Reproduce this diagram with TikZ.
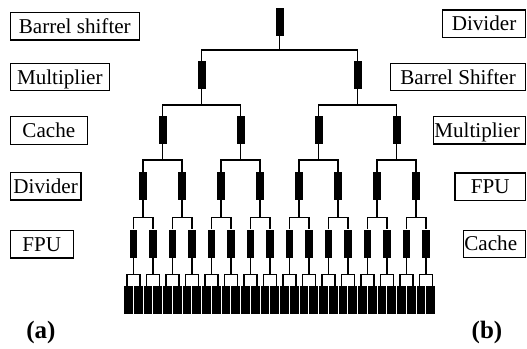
\documentclass[tikz,border=0pt]{standalone}
\usepackage{fontspec}
\setmainfont{Liberation Serif}
\newcommand\tagfont{\fontsize{21.1}{24}\selectfont}
\newcommand\capfont{\fontsize{25}{28}\selectfont\bfseries}
\tikzset{
  unit/.style={fill=black, draw=none, inner sep=0pt, minimum width=7.6pt, minimum height=28pt},
  leafunit/.style={unit, minimum width=8.7pt},
  wire/.style={line width=1.5pt},
  tag/.style={draw, line width=1.3pt, font=\tagfont, inner xsep=0pt, inner ysep=6.7pt,
              text height=14pt, text depth=0pt},
  caption/.style={font=\capfont, inner sep=0pt}
}
\begin{document}
\begin{tikzpicture}[x=1pt,y=-1pt]
\useasboundingbox (0,0) rectangle (527,348);
\def\cx{279.7}
% tree units, level by level: level/centre y/junction y below
\foreach \k/\yc/\yb in {0/21.5/50, 1/75/105, 2/130.15/160, 3/185.85/217.3, 4/243.65/274.3}{
  \pgfmathtruncatemacro\n{2^\k}
  \pgfmathsetmacro\s{312/\n}
  \pgfmathtruncatemacro\last{\n-1}
  \foreach \i in {0,...,\last}{
    \pgfmathsetmacro\xx{\cx+(\i-(\n-1)/2)*\s}
    \node[unit] (n-\k-\i) at (\xx,\yc) {};
    \coordinate (j-\k-\i) at (\xx,\yb);
  }
}
% leaves
\foreach \i in {0,...,31}{
  \pgfmathsetmacro\xx{\cx+(\i-15.5)*9.75}
  \node[leafunit] (n-5-\i) at (\xx,300) {};
}
% connectors between inner levels
\foreach \k in {0,1,2,3}{
  \pgfmathtruncatemacro\last{2^\k-1}
  \pgfmathtruncatemacro\kk{\k+1}
  \foreach \i in {0,...,\last}{
    \pgfmathtruncatemacro\a{2*\i}
    \pgfmathtruncatemacro\b{2*\i+1}
    \draw[wire] (n-\k-\i.south) -- (j-\k-\i);
    \draw[wire] (n-\kk-\a.north) |- (j-\k-\i) -| (n-\kk-\b.north);
  }
}
% connectors to the leaves
\foreach \i in {0,...,15}{
  \pgfmathtruncatemacro\a{2*\i}
  \pgfmathtruncatemacro\b{2*\i+1}
  \draw[wire] (n-4-\i.south) -- (j-4-\i);
  \draw[wire] ([xshift=-1.7pt]n-5-\a.north) |- (j-4-\i) -| ([xshift=1.7pt]n-5-\b.north);
}
% placement (a)
\node[tag, minimum width=129pt, anchor=west] (la1) at (9.65,26.35) {Barrel shifter};
\node[tag, minimum width=99pt, anchor=west] (la2) at (9.65,77) {Multiplier};
\node[tag, minimum width=77pt, anchor=west] (la3) at (9.65,130.5) {Cache};
\node[tag, minimum width=70.7pt, anchor=west] (la4) at (9.65,186.2) {Divider};
\node[tag, minimum width=63pt, anchor=west] (la5) at (9.65,244.2) {FPU};
% placement (b)
\node[tag, minimum width=82.7pt, anchor=east] (lb1) at (526.05,23.7) {Divider};
\node[tag, minimum width=134.7pt, anchor=east] (lb2) at (526.05,77) {Barrel Shifter};
\node[tag, minimum width=92.1pt, anchor=east] (lb3) at (526.05,130.2) {\kern-4.4pt Multiplier};
\node[tag, minimum width=70.4pt, anchor=east] (lb4) at (526.05,186.7) {FPU};
\node[tag, minimum width=62.1pt, anchor=east] (lb5) at (526.05,243.9) {\kern-7.2pt Cache};
% captions
\node[caption] (capa) at (41,332) {(a)};
\node[caption] (capb) at (487,332) {(b)};
\end{tikzpicture}
\end{document}
